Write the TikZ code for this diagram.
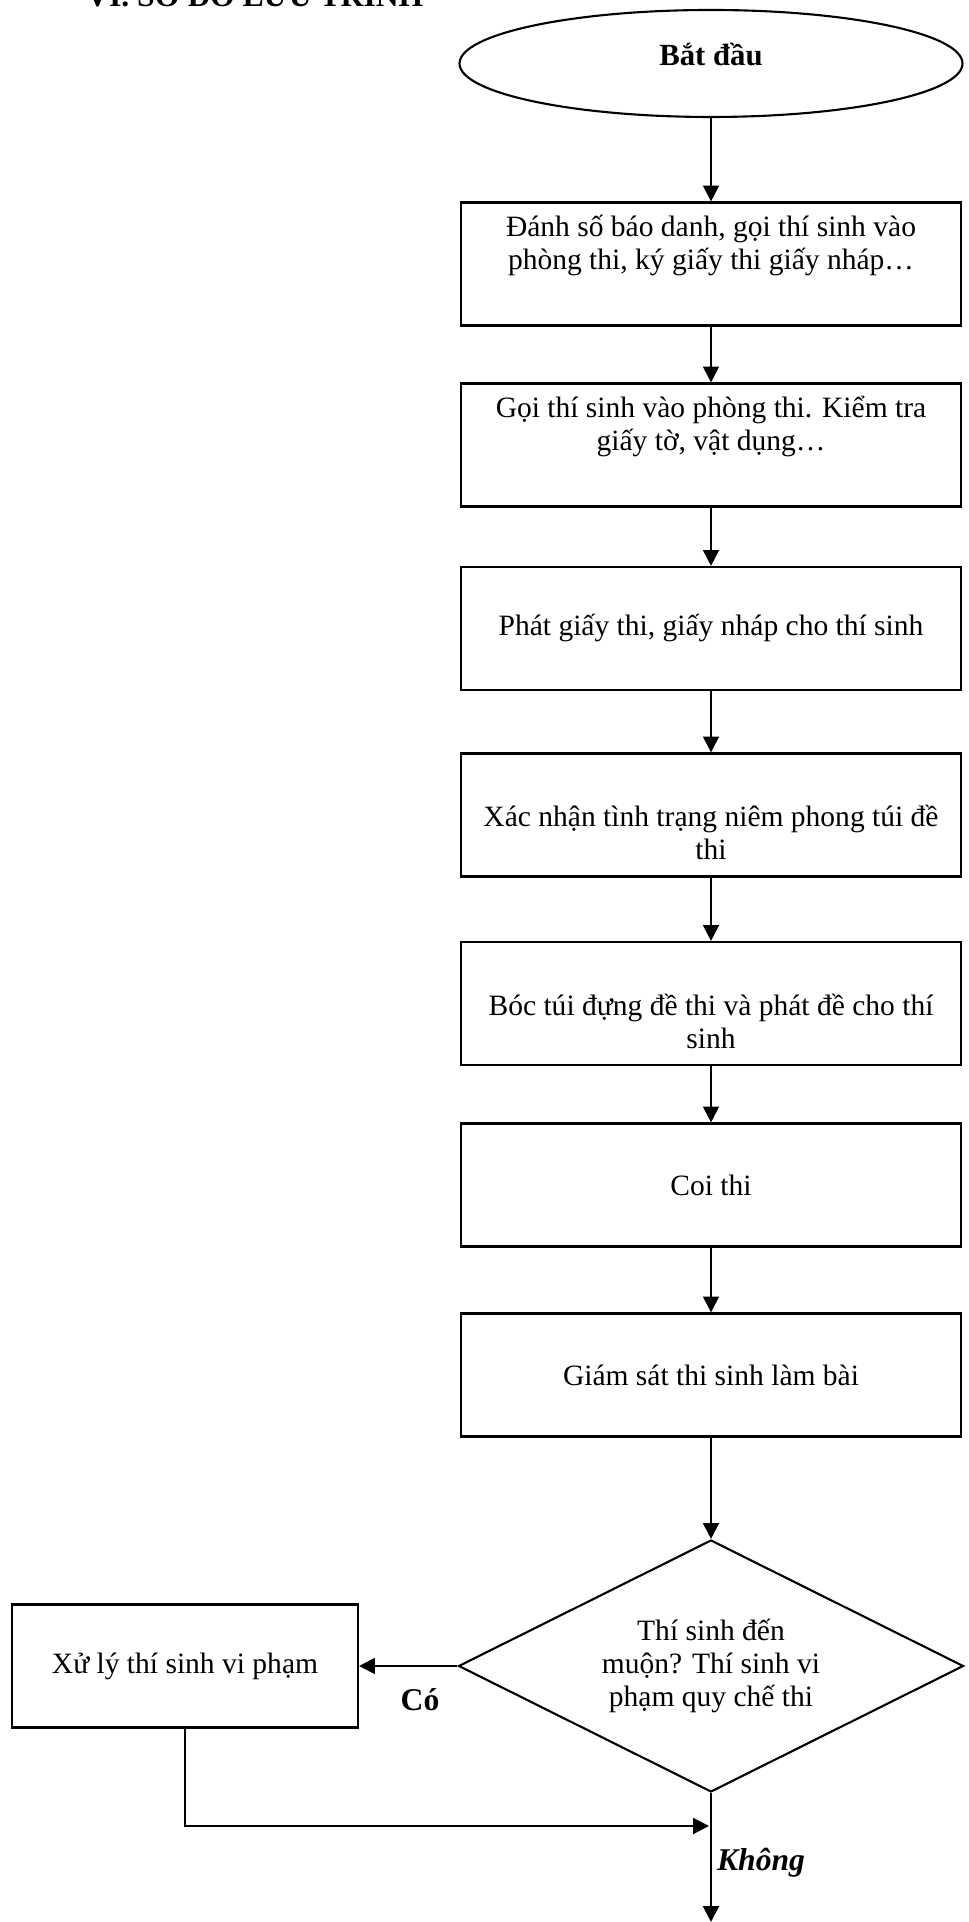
\documentclass[tikz,border=0pt]{standalone}
\usepackage{fontspec}
\setmainfont{Liberation Serif}
\usetikzlibrary{arrows.meta,shapes.geometric}

\begin{document}
\begin{tikzpicture}[
  >={Triangle[width=9pt,length=9pt]},
  every node/.style={font=\fontsize{16.8}{19}\selectfont},
  stepbox/.style={draw, line width=1.2pt, minimum width=10cm,
                  minimum height=2.46cm, align=center},
  startnode/.style={ellipse, draw, line width=1.2pt, minimum width=10.06cm,
                    minimum height=2.14cm, text height=8pt, text depth=6pt,
                    font=\bfseries\fontsize{17.5}{19}\selectfont},
  decision/.style={diamond, draw, line width=1.2pt, aspect=2, inner sep=0pt,
                   minimum width=10.1cm, minimum height=5.04cm, align=center},
  arrow/.style={->, line width=1.2pt},
  answer/.style={font=\bfseries\fontsize{18}{20}\selectfont},
]
  \useasboundingbox (0,0) rectangle (19.38,38.44);

  % heading, cut off by the page edge
  \node[anchor=base west, font=\bfseries\fontsize{18}{20}\selectfont]
    (title) at (1.6, 38.3) {VI. SƠ ĐỒ LƯU TRÌNH};

  \node[startnode] (start) at (14.22, 37.17) {Bắt đầu};
  \node[stepbox] (number) at (14.22, 33.16)
    {Đánh số báo danh, gọi thí sinh vào\\phòng thi, ký giấy thi giấy nháp…\\\strut};
  \node[stepbox] (check) at (14.22, 29.54)
    {Gọi thí sinh vào phòng thi. Kiểm tra\\giấy tờ, vật dụng…\\\strut};
  \node[stepbox] (paper) at (14.22, 25.87)
    {Phát giấy thi, giấy nháp cho thí sinh};
  \node[stepbox] (seal) at (14.22, 22.14)
    {\strut\\Xác nhận tình trạng niêm phong túi đề\\thi};
  \node[stepbox] (open) at (14.22, 18.37)
    {\strut\\Bóc túi đựng đề thi và phát đề cho thí\\sinh};
  \node[stepbox] (watch) at (14.22, 14.74) {Coi thi};
  \node[stepbox] (monitor) at (14.22, 10.94) {Giám sát thi sinh làm bài};

  \node[decision] (late) at (14.22, 5.12)
    {Thí sinh đến\\muộn? Thí sinh vi\\phạm quy chế thi};
  \node[stepbox, minimum width=6.92cm] (fix) at (3.7, 5.12)
    {Xử lý thí sinh vi phạm};

  \coordinate (join) at (14.18, 1.92);
  \coordinate (end) at (14.22, 0);

  \draw[arrow] (start) -- (number);
  \draw[arrow] (number) -- (check);
  \draw[arrow] (check) -- (paper);
  \draw[arrow] (paper) -- (seal);
  \draw[arrow] (seal) -- (open);
  \draw[arrow] (open) -- (watch);
  \draw[arrow] (watch) -- (monitor);
  \draw[arrow] (monitor) -- (late);

  % yes / no branches
  \draw[arrow] (late.west) -- (fix.east);
  \node[answer] (yes) at (8.4, 4.44) {Có};
  \draw[arrow] (fix.south) |- (join);
  \draw[arrow] (late.south) -- (end);
  \node[answer, font=\bfseries\itshape\fontsize{18}{20}\selectfont,
        anchor=west, inner sep=1pt] (no) at (14.3, 1.18) {Không};
\end{tikzpicture}
\end{document}
